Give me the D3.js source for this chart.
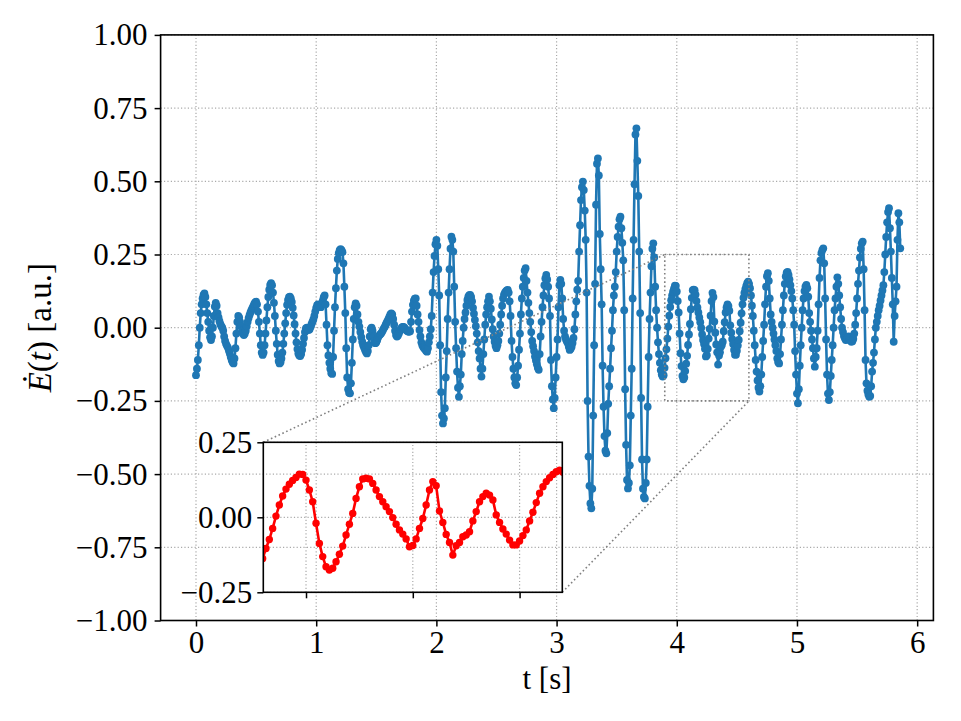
<!DOCTYPE html>
<html>
<head>
<meta charset="utf-8">
<script src="https://cdnjs.cloudflare.com/ajax/libs/d3/7.8.5/d3.min.js"></script>
<style>
  body { margin: 0; background: #fff; }
  text { font-family: "Liberation Serif", "DejaVu Serif", serif; }
</style>
</head>
<body>
<div id="chart"></div>
<script>
// samples of dE/dt, one every 1/128 s
var sampleRate = 128;
var eDot = [
  -0.162,-0.14,-0.11,-0.06,0.0,0.05,0.08,0.10,0.112,0.117,
  0.105,0.08,0.05,0.02,-0.01,-0.033,-0.042,
  -0.03,0.0,0.04,0.072,0.085,
  0.075,0.05,0.035,0.022,0.012,0.005,0.0,-0.01,-0.03,-0.045,-0.055,-0.062,-0.068,-0.078,-0.088,-0.1,-0.11,-0.118,-0.122,
  -0.105,-0.07,-0.02,0.02,0.04,
  0.035,0.02,0.005,-0.01,-0.02,-0.025,
  -0.02,-0.01,0.005,0.02,0.033,0.043,0.052,0.06,0.067,0.074,0.081,0.086,0.089,
  0.08,0.055,0.02,-0.02,-0.06,-0.085,-0.093,
  -0.085,-0.06,-0.02,0.025,0.07,0.105,0.13,0.146,0.152,
  0.145,0.12,0.085,0.04,-0.01,-0.055,-0.092,-0.114,-0.122,
  -0.118,-0.105,-0.085,-0.055,-0.02,0.015,0.05,0.078,0.095,0.104,0.106,
  0.1,0.088,0.068,0.042,0.012,-0.02,-0.05,-0.073,-0.088,-0.095,-0.097,
  -0.09,-0.075,-0.055,-0.035,-0.015,-0.002,0.0,-0.005,-0.008,-0.005,0.003,0.012,0.02,0.028,0.04,0.055,0.068,0.077,0.08,0.077,0.072,0.07,0.078,0.092,0.104,0.11,
  0.08,0.01,-0.06,-0.095,-0.12,-0.14,-0.155,-0.158,
  -0.1,-0.01,0.07,0.135,0.195,0.235,0.255,0.265,0.268,
  0.265,0.258,0.22,0.14,0.05,-0.07,-0.17,-0.21,-0.222,-0.224,
  -0.19,-0.12,-0.04,0.03,0.07,0.083,
  0.075,0.045,0.02,0.004,-0.015,-0.032,-0.048,-0.06,-0.068,-0.076,-0.083,-0.088,
  -0.08,-0.06,-0.03,-0.005,0.0,-0.01,-0.03,-0.045,-0.053,
  -0.05,-0.042,-0.033,-0.027,-0.023,-0.02,-0.015,-0.009,-0.002,0.003,0.01,0.017,0.023,0.03,0.038,0.045,0.049,
  0.045,0.03,0.01,-0.01,-0.025,-0.03,
  -0.027,-0.02,-0.012,-0.005,0.0,0.003,0.003,0.0,-0.004,-0.008,-0.011,-0.013,-0.014,-0.012,0.02,0.055,0.078,0.092,0.099,0.10,
  0.075,0.045,0.02,-0.008,-0.03,-0.05,-0.06,-0.066,-0.07,-0.074,-0.079,-0.082,
  -0.07,-0.05,-0.03,-0.005,0.04,0.12,0.19,0.245,0.285,0.30,
  0.28,0.2,0.11,-0.06,-0.22,-0.3,-0.327,
  -0.31,-0.275,-0.17,-0.08,0.03,0.12,0.2,0.27,0.311,
  0.3,0.26,0.14,0.02,-0.07,-0.15,-0.205,-0.236,
  -0.2,-0.16,-0.09,-0.045,0.0,0.03,0.052,0.075,0.095,0.106,0.111,0.112,
  0.105,0.09,0.068,0.048,0.027,0.005,-0.02,-0.05,-0.08,-0.105,-0.14,-0.167,
  -0.14,-0.09,-0.04,0.01,0.045,0.07,0.09,0.106,
  0.09,0.065,0.028,-0.005,-0.03,-0.048,-0.062,-0.07,
  -0.06,-0.045,-0.02,0.01,0.045,0.075,0.1,0.113,0.12,0.124,0.127,0.129,
  0.12,0.09,0.04,-0.045,-0.1,-0.14,-0.17,-0.19,-0.196,
  -0.17,-0.13,-0.075,-0.02,0.045,0.1,0.14,0.17,0.195,0.203,
  0.16,0.12,0.085,0.05,0.02,-0.015,-0.045,-0.063,-0.08,-0.098,-0.112,-0.125,-0.137,-0.144,
  -0.09,-0.03,0.02,0.07,0.11,0.145,0.168,0.18,
  0.165,0.14,0.1,0.04,-0.11,-0.2,-0.245,-0.275,
  -0.24,-0.17,-0.1,-0.04,0.07,0.145,0.163,
  0.15,0.1,0.03,-0.01,-0.03,-0.04,-0.047,-0.053,-0.065,-0.076,
  -0.072,-0.065,-0.052,-0.035,-0.005,0.045,0.09,0.13,0.16,0.26,0.35,0.436,0.48,0.499,
  0.47,0.4,0.3,0.12,-0.25,-0.44,-0.54,-0.6,-0.617,
  -0.55,-0.3,-0.06,0.15,0.42,0.56,0.578,
  0.52,0.32,0.2,0.08,-0.13,-0.27,-0.37,-0.42,-0.429,
  -0.36,-0.26,-0.2,-0.14,-0.07,-0.01,0.06,0.11,0.14,0.19,0.26,0.31,0.345,0.37,0.379,
  0.34,0.29,0.23,0.06,-0.21,-0.4,-0.52,-0.549,
  -0.53,-0.47,-0.3,-0.14,0.1,0.3,0.49,0.66,0.681,
  0.57,0.45,0.26,0.05,-0.24,-0.45,-0.55,-0.578,-0.583,
  -0.53,-0.45,-0.27,-0.1,0.03,0.12,0.21,0.27,0.288,
  0.24,0.14,0.06,0.0,-0.05,-0.09,-0.12,-0.145,-0.16,-0.167,-0.162,
  -0.137,-0.104,-0.074,-0.037,0.004,0.041,0.071,0.094,0.110,0.123,
  0.133,0.144,0.143,0.124,0.091,0.052,-0.020,-0.087,-0.131,-0.165,
  -0.176,-0.170,-0.148,-0.123,-0.096,-0.059,-0.023,0.013,0.063,0.102,
  0.128,0.130,0.128,0.113,0.091,0.069,0.052,0.035,0.019,-0.001,
  -0.023,-0.042,-0.056,-0.072,-0.098,-0.094,-0.072,-0.037,-0.004,0.041,
  0.091,0.119,0.105,0.021,-0.017,-0.057,-0.084,-0.126,-0.095,-0.084,
  -0.065,-0.059,-0.048,-0.012,0.019,0.052,0.069,0.080,0.074,0.058,
  0.008,-0.017,-0.039,-0.056,-0.076,-0.092,-0.092,-0.079,-0.061,-0.042,
  -0.012,0.017,0.049,0.080,0.102,0.119,0.132,0.143,
  0.152,0.157,
  0.15,0.135,0.11,0.075,0.04,-0.01,-0.06,-0.11,-0.15,-0.18,-0.205,-0.218,
  -0.2,-0.16,-0.1,-0.045,0.01,0.08,0.14,0.176,0.186,
  0.16,0.1,0.045,0.02,0.0,-0.02,-0.04,-0.06,-0.08,-0.105,-0.118,-0.122,
  -0.09,-0.04,0.01,0.06,0.11,0.15,0.175,0.188,0.191,0.18,
  0.165,0.145,0.125,0.1,0.06,0.01,-0.08,-0.16,-0.225,-0.258,
  -0.21,-0.13,-0.06,0.0,0.06,0.1,0.125,0.14,0.146,
  0.135,0.106,0.05,0.02,-0.01,-0.04,-0.07,-0.105,-0.133,
  -0.1,-0.07,-0.01,0.08,0.17,0.23,0.255,0.265,0.271,
  0.22,0.1,-0.04,-0.16,-0.225,-0.247,
  -0.22,-0.165,-0.11,-0.06,0.0,0.06,0.1,0.14,0.172,
  0.15,0.11,0.07,0.03,0.0,-0.015,-0.028,-0.036,-0.042,-0.04,-0.034,-0.03,-0.036,-0.044,-0.048,-0.046,-0.038,-0.02,0.01,0.05,0.1,0.15,0.195,0.24,0.27,0.288,0.294,
  0.2,0.06,-0.11,-0.19,-0.215,-0.228,-0.236,-0.233,
  -0.2,-0.15,-0.12,-0.085,-0.04,0.0,0.02,0.04,0.06,0.075,0.093,0.11,0.127,0.145,0.19,0.25,0.31,0.36,0.395,0.408,
  0.34,0.26,0.17,0.08,-0.048,0.04,0.09,0.14,0.3,0.391,0.36,0.271
];

var xTicks = [0, 1, 2, 3, 4, 5, 6];
var yTicks = [-1, -0.75, -0.5, -0.25, 0, 0.25, 0.5, 0.75, 1];
var zoomT = [3.9, 4.6];
var zoomV = [-0.25, 0.25];
var insetXTicks = [4.0, 4.25, 4.5];
var insetYTicks = [-0.25, 0, 0.25];

var width = 961, height = 721;
var blue = "#1f77b4";
var fontSize = 31;

var svg = d3.select("#chart").append("svg")
  .attr("width", width)
  .attr("height", height);

var data = eDot.map(function(v, i) { return {t: i / sampleRate, v: v}; });

var x = d3.scaleLinear().domain([-0.2945, 6.135]).range([160.6, 933.4]);
var y = d3.scaleLinear().domain([-1, 1]).range([620.5, 34.9]);

function dotted(sel, color, w, dash) {
  sel.attr("stroke", color).attr("stroke-width", w).attr("stroke-dasharray", dash).attr("fill", "none");
}

// main grid
var grid = svg.append("g");
grid.selectAll(".gx").data(xTicks).enter().append("line")
  .attr("x1", function(d) { return x(d); }).attr("x2", function(d) { return x(d); })
  .attr("y1", y(-1)).attr("y2", y(1))
  .call(dotted, "#aaaaaa", 1.2, "1.2,2.2");
grid.selectAll(".gy").data(yTicks).enter().append("line")
  .attr("x1", x.range()[0]).attr("x2", x.range()[1])
  .attr("y1", function(d) { return y(d); }).attr("y2", function(d) { return y(d); })
  .call(dotted, "#aaaaaa", 1.2, "1.2,2.2");

// series
var line = d3.line().x(function(d) { return x(d.t); }).y(function(d) { return y(d.v); });
svg.append("path").datum(data)
  .attr("d", line)
  .attr("fill", "none")
  .attr("stroke", blue)
  .attr("stroke-width", 2.6)
  .attr("stroke-linejoin", "round");
svg.append("g").selectAll("circle").data(data).enter().append("circle")
  .attr("cx", function(d) { return x(d.t); })
  .attr("cy", function(d) { return y(d.v); })
  .attr("r", 3.9)
  .attr("fill", blue);

// axes
function styleAxis(g) {
  g.select(".domain").remove();
  g.selectAll(".tick line").attr("stroke", "#000").attr("stroke-width", 1.5);
  g.selectAll(".tick text").attr("font-size", fontSize).attr("fill", "#000")
    .style("font-family", "'Liberation Serif', serif");
}
svg.append("g").attr("transform", "translate(0," + y(-1) + ")")
  .call(d3.axisBottom(x).tickValues(xTicks).tickFormat(d3.format("d")).tickSize(6).tickPadding(4))
  .call(styleAxis);
svg.append("g").attr("transform", "translate(" + x.range()[0] + ",0)")
  .call(d3.axisLeft(y).tickValues(yTicks).tickFormat(d3.format(".2f")).tickSize(6).tickPadding(7))
  .call(styleAxis);

svg.append("rect")
  .attr("x", x.range()[0]).attr("y", y(1))
  .attr("width", x.range()[1] - x.range()[0]).attr("height", y(-1) - y(1))
  .attr("fill", "none").attr("stroke", "#000").attr("stroke-width", 1.6);

// labels
svg.append("text")
  .attr("x", (x.range()[0] + x.range()[1]) / 2).attr("y", 689)
  .attr("text-anchor", "middle").attr("font-size", fontSize)
  .text("t [s]");
var yl = svg.append("text")
  .attr("transform", "translate(51," + y(0) + ") rotate(-90)")
  .attr("text-anchor", "middle").attr("font-size", 33);
yl.append("tspan").attr("font-style", "italic").text("\u0116");
yl.append("tspan").text("(");
yl.append("tspan").attr("font-style", "italic").text("t");
yl.append("tspan").text(") [a.u.]");

// inset
var ix = d3.scaleLinear().domain(zoomT).range([263.3, 562.3]);
var iy = d3.scaleLinear().domain(zoomV).range([592.3, 442.3]);

// zoom box and connectors
var box = svg.append("g");
box.append("rect")
  .attr("x", x(zoomT[0])).attr("y", y(zoomV[1]))
  .attr("width", x(zoomT[1]) - x(zoomT[0])).attr("height", y(zoomV[0]) - y(zoomV[1]))
  .call(dotted, "#808080", 1.6, "1.6,2.6");
box.append("line")
  .attr("x1", ix(zoomT[0])).attr("y1", iy(zoomV[1]))
  .attr("x2", x(zoomT[0])).attr("y2", y(zoomV[1]))
  .call(dotted, "#808080", 1.6, "1.6,2.6");
box.append("line")
  .attr("x1", ix(zoomT[1])).attr("y1", iy(zoomV[0]))
  .attr("x2", x(zoomT[1])).attr("y2", y(zoomV[0]))
  .call(dotted, "#808080", 1.6, "1.6,2.6");

var inset = svg.append("g");
inset.append("clipPath").attr("id", "insetClip").append("rect")
  .attr("x", ix.range()[0]).attr("y", iy.range()[1])
  .attr("width", ix.range()[1] - ix.range()[0]).attr("height", iy.range()[0] - iy.range()[1]);

inset.selectAll(".igx").data(insetXTicks).enter().append("line")
  .attr("x1", function(d) { return ix(d); }).attr("x2", function(d) { return ix(d); })
  .attr("y1", iy.range()[0]).attr("y2", iy.range()[1])
  .call(dotted, "#aaaaaa", 1.2, "1.2,2.2");
inset.selectAll(".igy").data(insetYTicks).enter().append("line")
  .attr("x1", ix.range()[0]).attr("x2", ix.range()[1])
  .attr("y1", function(d) { return iy(d); }).attr("y2", function(d) { return iy(d); })
  .call(dotted, "#aaaaaa", 1.2, "1.2,2.2");

var zoomData = data.filter(function(d) { return d.t > zoomT[0] - 0.05 && d.t < zoomT[1] + 0.05; });
var iline = d3.line().x(function(d) { return ix(d.t); }).y(function(d) { return iy(d.v); });
var plotArea = inset.append("g").attr("clip-path", "url(#insetClip)");
plotArea.append("path").datum(zoomData)
  .attr("d", iline)
  .attr("fill", "none")
  .attr("stroke", "red")
  .attr("stroke-width", 2.6)
  .attr("stroke-linejoin", "round");
plotArea.selectAll("circle").data(zoomData).enter().append("circle")
  .attr("cx", function(d) { return ix(d.t); })
  .attr("cy", function(d) { return iy(d.v); })
  .attr("r", 3.7)
  .attr("fill", "red");

inset.append("g").attr("transform", "translate(0," + iy.range()[0] + ")")
  .call(d3.axisBottom(ix).tickValues(insetXTicks).tickFormat("").tickSize(6))
  .call(styleAxis);
inset.append("g").attr("transform", "translate(" + ix.range()[0] + ",0)")
  .call(d3.axisLeft(iy).tickValues(insetYTicks).tickFormat(d3.format(".2f")).tickSize(6).tickPadding(5))
  .call(styleAxis);
inset.append("rect")
  .attr("x", ix.range()[0]).attr("y", iy.range()[1])
  .attr("width", ix.range()[1] - ix.range()[0]).attr("height", iy.range()[0] - iy.range()[1])
  .attr("fill", "none").attr("stroke", "#000").attr("stroke-width", 1.6);
</script>
</body>
</html>
